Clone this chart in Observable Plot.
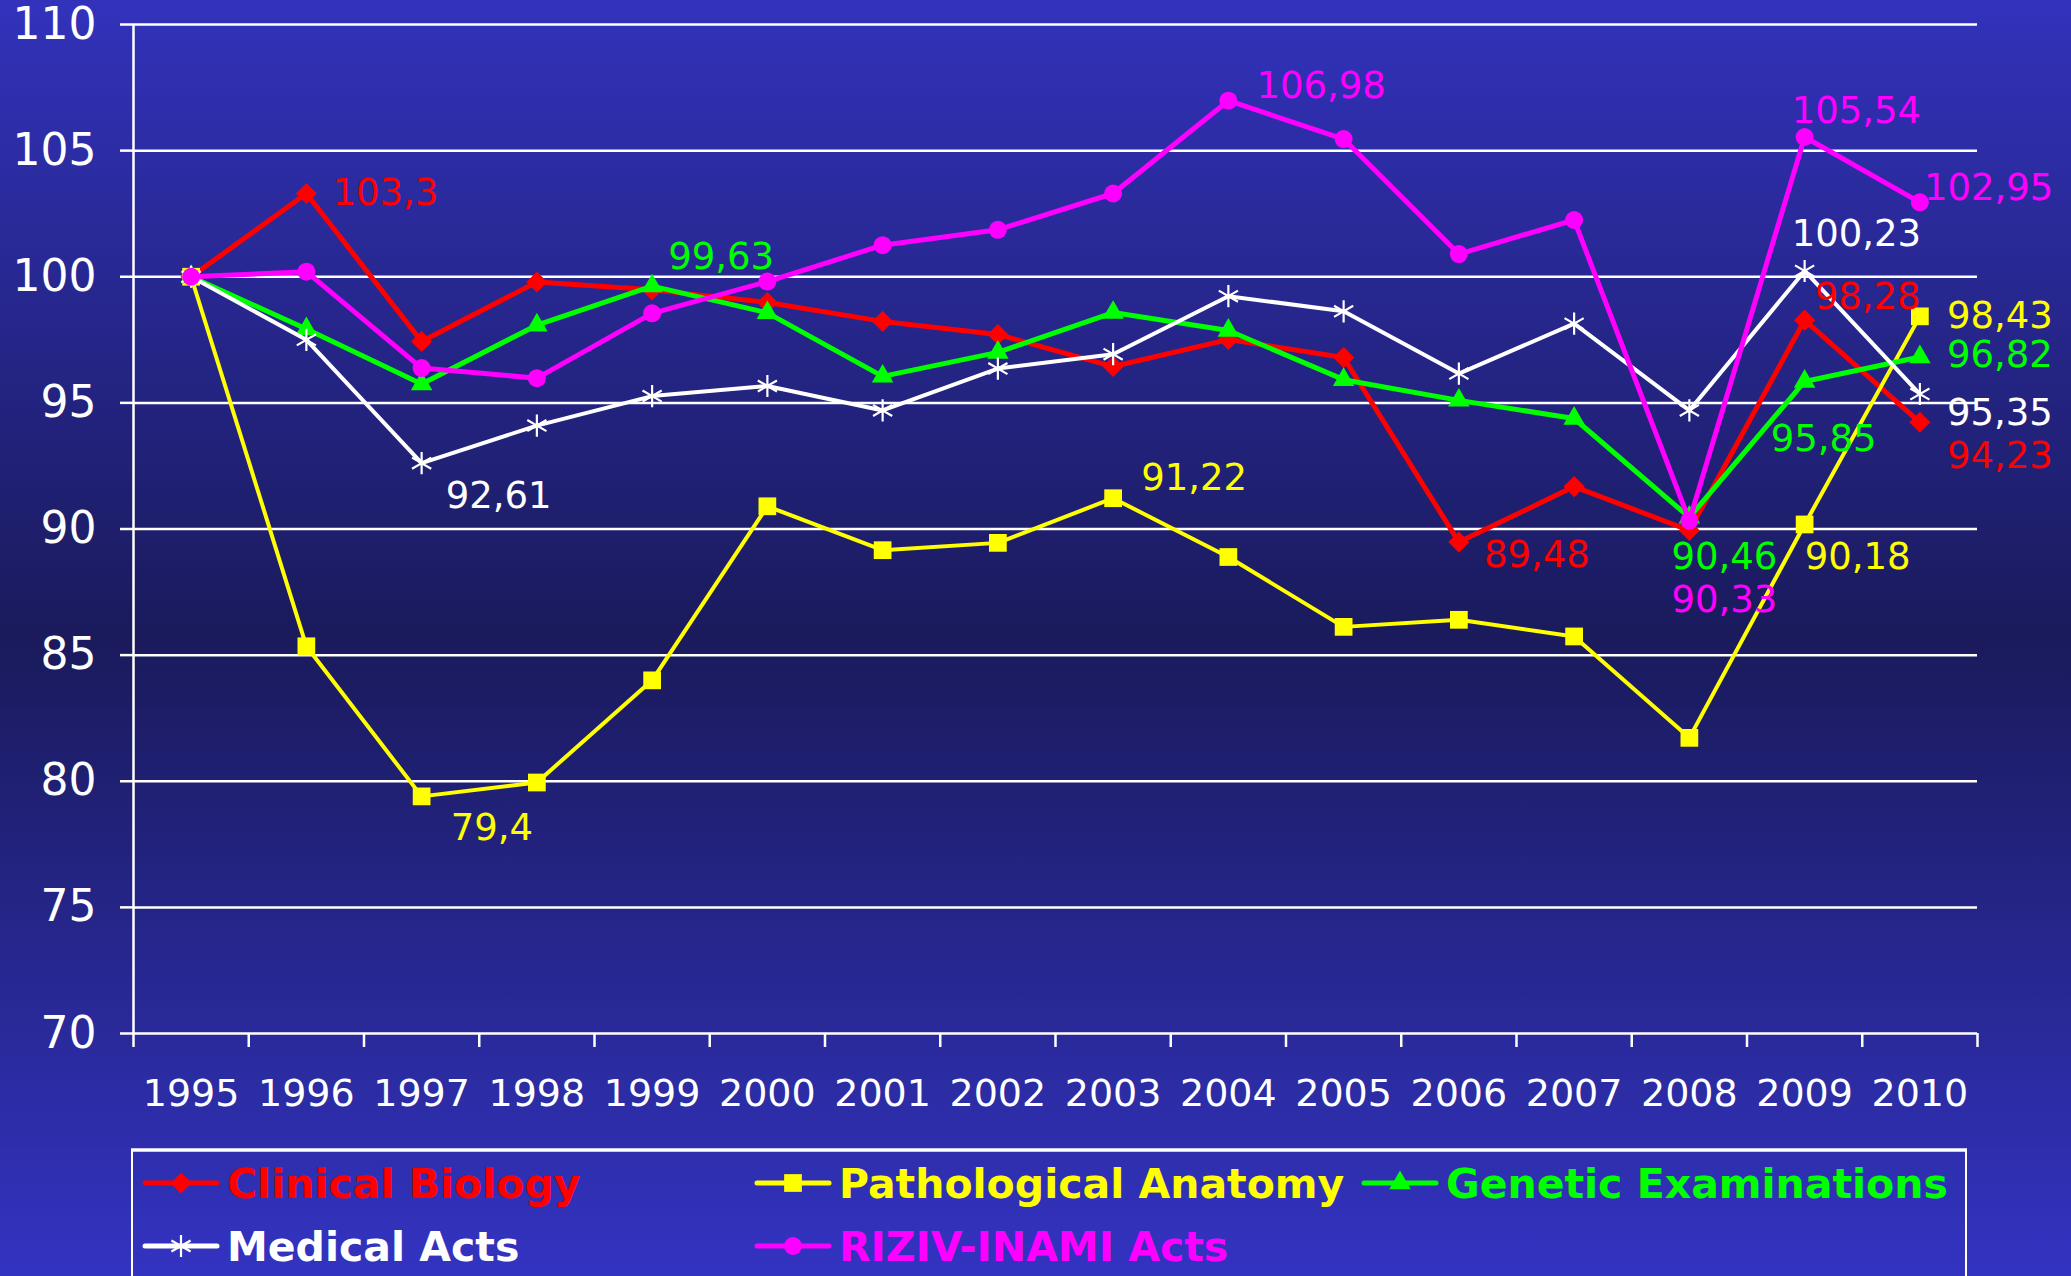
<!DOCTYPE html>
<html><head><meta charset="utf-8">
<script src="https://cdn.jsdelivr.net/npm/d3@7"></script>
<script src="https://cdn.jsdelivr.net/npm/@observablehq/plot@0.6"></script>
<style>
html,body{margin:0;padding:0;}
#root{position:relative;width:2071px;height:1276px;overflow:hidden;background:linear-gradient(to bottom,#3232bc 0%,#1a1a5c 50%,#3333c2 100%);font-family:"DejaVu Sans",Verdana,sans-serif;}
#chart{position:absolute;left:0;top:0;}
#legend{position:absolute;left:0;top:1140px;}
</style></head><body><div id="root"><div id="chart"></div><svg id="legend" width="2071" height="136"></svg></div>
<script>
// ---- data ----
const years = [1995,1996,1997,1998,1999,2000,2001,2002,2003,2004,2005,2006,2007,2008,2009,2010];
const seriesNames = ["Clinical Biology","Pathological Anatomy","Genetic Examinations","Medical Acts","RIZIV-INAMI Acts"];
const clinicalBiology     = [100,103.3,97.43,99.79,99.48,98.98,98.23,97.71,96.44,97.51,96.8,89.48,91.68,89.94,98.28,94.23];
const pathologicalAnatomy = [100,85.35,79.4,79.95,84.0,90.9,89.16,89.45,91.22,88.89,86.12,86.4,85.74,81.72,90.18,98.43];
const geneticExaminations = [100,97.93,95.75,98.08,99.63,98.57,96.05,97.0,98.58,97.87,95.92,95.1,94.38,90.46,95.85,96.82];
const medicalActs         = [100,97.5,92.61,94.1,95.27,95.67,94.7,96.36,96.93,99.23,98.63,96.16,98.14,94.7,100.23,95.35];
const rizivInamiActs      = [100,100.2,96.38,95.98,98.55,99.81,101.25,101.86,103.3,106.98,105.46,100.9,102.25,90.33,105.54,102.95];
const yTicks = [70,75,80,85,90,95,100,105,110];

// labelled points: [series index, year]
const labelled = [[0,1996],[3,1997],[2,1999],[4,2004],[1,2003],[1,1997],[0,2006],[2,2008],[4,2008],[1,2009],[4,2009],[3,2009],[0,2009],[2,2009],[4,2010],[1,2010],[2,2010],[3,2010],[0,2010]];

// ---- styling (layout only) ----
const styles = [
  {color:"#ff0000", symbol:"diamond2", r:9.5, width:5},
  {color:"#ffff00", symbol:"square", r:10, width:4},
  {color:"#00ff00", symbol:"triangle", r:8, width:5},
  {color:"#ffffff", symbol:"asterisk", r:10.5, width:4},
  {color:"#ff00ff", symbol:"circle", r:9, width:5}
];
const labelOffsets = [[26,0],[24,33],[16,-29],[28,-15],[28,-20],[29,32],[25,13],[-18,40],[-18,79],[0,33],[-13,-26],[-13,-37],[10,-23],[-34,58],[4,-14],[27,0],[27,-2],[27,19],[27,34]];

const valuesList = [clinicalBiology, pathologicalAnatomy, geneticExaminations, medicalActs, rizivInamiActs];
const rows = valuesList.map((vals,i) => years.map((yr,j) => ({series:seriesNames[i], year:yr, value:vals[j]})));
const bounds = [years[0]-0.5, ...years.map(y => y+0.5)];
const fmt = v => String(v).replace(".", ",");

const marks = [
  Plot.gridY(yTicks, {stroke:"white", strokeOpacity:1, strokeWidth:2.5}),
  Plot.axisY(yTicks, {tickSize:13, tickPadding:24, fontSize:44, stroke:"white", strokeWidth:2.5, fill:"white", label:null, tickFormat:d=>String(d)}),
  Plot.ruleX([bounds[0]], {stroke:"white", strokeWidth:2.5}),
  Plot.axisX(bounds, {tickSize:14, tickFormat:()=>"", stroke:"white", strokeWidth:2.5, label:null}),
  Plot.axisX(years, {tickSize:0, tickPadding:46, fontSize:38, fill:"white", label:null, tickFormat:d=>String(d)})
];
rows.forEach((r,i) => {
  const s = styles[i];
  marks.push(Plot.line(r, {x:"year", y:"value", stroke:s.color, strokeWidth:s.width, strokeLinejoin:"round"}));
  if (s.symbol === "asterisk")
    marks.push(Plot.dot(r, {x:"year", y:"value", symbol:s.symbol, r:s.r, fill:"none", stroke:s.color, strokeWidth:2.2}));
  else
    marks.push(Plot.dot(r, {x:"year", y:"value", symbol:s.symbol, r:s.r, fill:s.color, stroke:"none"}));
});
labelled.forEach(([si,yr],k) => {
  const d = rows[si].find(e => e.year === yr);
  marks.push(Plot.text([d], {x:"year", y:"value", text:e=>fmt(e.value), dx:labelOffsets[k][0], dy:labelOffsets[k][1], textAnchor:"start", fill:styles[si].color, fontSize:37}));
});

const chart = Plot.plot({
  width:2071, height:1140,
  marginLeft:133, marginRight:94, marginTop:24, marginBottom:107,
  style:{background:"transparent", color:"white", fontFamily:"'DejaVu Sans', Verdana, sans-serif", overflow:"visible"},
  x:{domain:[bounds[0], bounds[bounds.length-1]]},
  y:{domain:[70,110]},
  marks
});
document.getElementById("chart").appendChild(chart);

// ---- legend ----
const lg = d3.select("#legend");
lg.append("rect").attr("x",132).attr("y",10).attr("width",1834).attr("height",200).attr("fill","none").attr("stroke","white").attr("stroke-width",2);
lg.append("line").attr("x1",131).attr("x2",1967).attr("y1",10).attr("y2",10).attr("stroke","white").attr("stroke-width",3.5);
const symMap = {diamond2:d3.symbolDiamond2, square:d3.symbolSquare, triangle:d3.symbolTriangle, asterisk:d3.symbolAsterisk, circle:d3.symbolCircle};
const legendPos = [[145,43],[757,43],[1364,43],[145,106],[757,106]];
seriesNames.forEach((name,i) => {
  const s = styles[i], [x0,cy] = legendPos[i];
  const g = lg.append("g");
  g.append("line").attr("x1",x0).attr("x2",x0+72).attr("y1",cy).attr("y2",cy).attr("stroke",s.color).attr("stroke-width",5).attr("stroke-linecap","round");
  const p = g.append("path").attr("transform",`translate(${x0+36},${cy})`).attr("d", d3.symbol(symMap[s.symbol], Math.PI*s.r*s.r)());
  if (s.symbol === "asterisk") p.attr("fill","none").attr("stroke",s.color).attr("stroke-width",2.2);
  else p.attr("fill",s.color);
  g.append("text").attr("x",x0+82).attr("y",cy+0.36*41).attr("fill",s.color).attr("font-size",41).attr("font-weight","bold").attr("font-family","'DejaVu Sans', Verdana, sans-serif").text(name);
});
</script></body></html>
